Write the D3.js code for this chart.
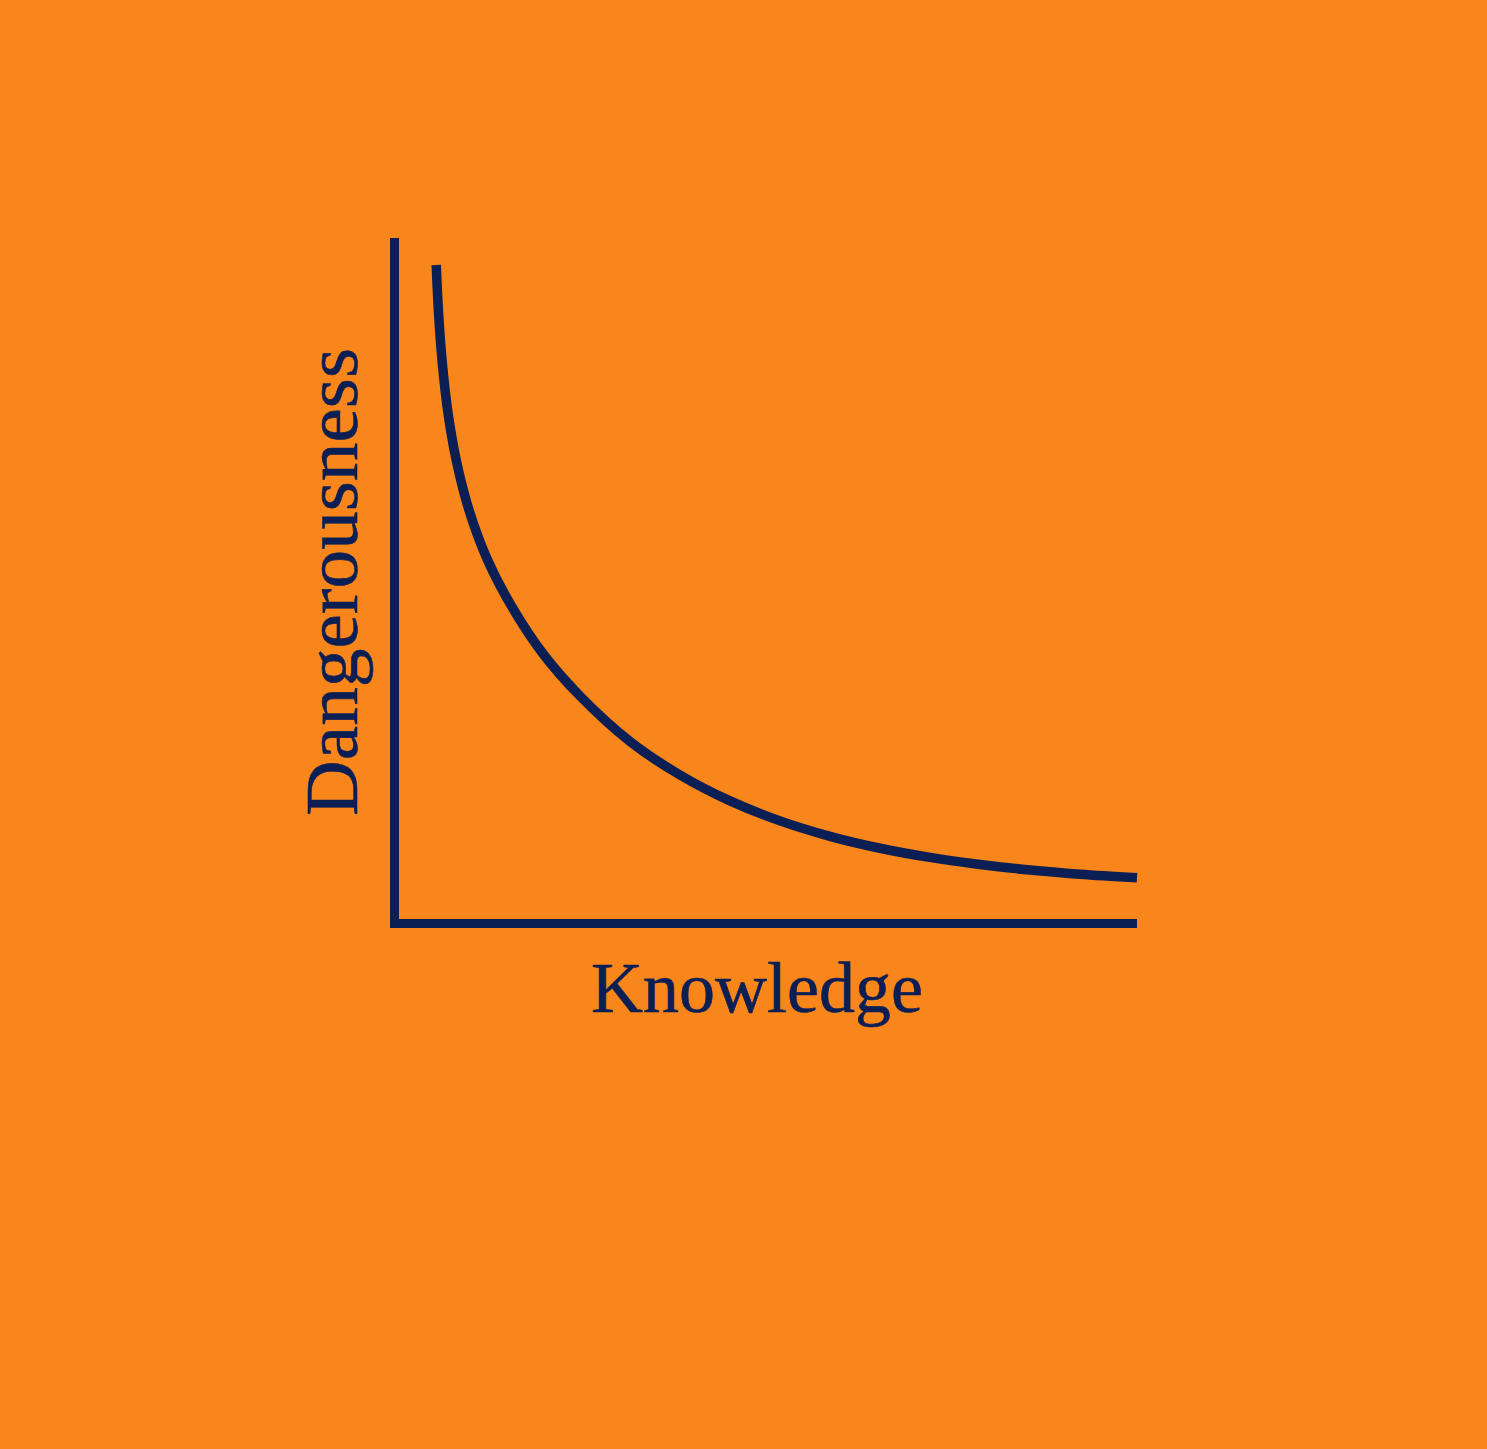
<!DOCTYPE html>
<html>
<head>
<meta charset="utf-8">
<script src="https://cdn.jsdelivr.net/npm/d3@7"></script>
<style>
  html, body { margin: 0; padding: 0; background: #F9861A; }
  svg { display: block; }
</style>
</head>
<body>
<script>
// Data
const knowledge = [5.62, 5.91, 6.40, 7.15, 8.31, 10.03, 12.53, 16.07, 20.13, 24.98, 31.72, 38.45, 45.19, 51.92, 58.65, 65.39, 72.12, 78.85, 85.59, 92.32, 100];
const dangerousness = [96.06, 89.50, 82.20, 74.91, 67.62, 60.32, 53.03, 45.73, 39.17, 33.19, 26.55, 21.66, 17.88, 14.97, 12.72, 10.98, 9.64, 8.61, 7.80, 7.19, 6.67];
const xLabel = "Knowledge";
const yLabel = "Dangerousness";

const W = 1487, H = 1449;
const bg = "#F9861A", ink = "#0C1F55";

const svg = d3.select("body").append("svg").attr("width", W).attr("height", H);
svg.append("rect").attr("width", W).attr("height", H).attr("fill", bg);

const x = d3.scaleLinear().domain([0, 100]).range([394.5, 1137]);
const y = d3.scaleLinear().domain([0, 100]).range([923.5, 238]);

// Axes (L shape)
svg.append("path")
  .attr("d", d3.line()([[x(0), y(100)], [x(0), y(0)], [x(100), y(0)]]))
  .attr("fill", "none")
  .attr("stroke", ink)
  .attr("stroke-width", 9)
  .attr("stroke-linejoin", "miter")
  .attr("stroke-linecap", "butt");

// Curve
const pts = knowledge.map((k, i) => [k, dangerousness[i]]);
svg.append("path")
  .datum(pts)
  .attr("d", d3.line().x(d => x(d[0])).y(d => y(d[1])).curve(d3.curveCatmullRom.alpha(0.5)))
  .attr("fill", "none")
  .attr("stroke", ink)
  .attr("stroke-width", 9.5)
  .attr("stroke-linecap", "butt");

// Labels
svg.append("text")
  .attr("x", 757).attr("y", 1012)
  .attr("text-anchor", "middle")
  .attr("font-family", "'Liberation Serif', 'Times New Roman', serif")
  .attr("font-size", 72)
  .attr("fill", ink)
  .attr("stroke", ink)
  .attr("stroke-width", 0.6)
  .text(xLabel);

svg.append("text")
  .attr("transform", "translate(357,582) rotate(-90)")
  .attr("text-anchor", "middle")
  .attr("font-family", "'Liberation Serif', 'Times New Roman', serif")
  .attr("font-size", 75)
  .attr("textLength", 468)
  .attr("lengthAdjust", "spacingAndGlyphs")
  .attr("fill", ink)
  .attr("stroke", ink)
  .attr("stroke-width", 0.6)
  .text(yLabel);
</script>
</body>
</html>
